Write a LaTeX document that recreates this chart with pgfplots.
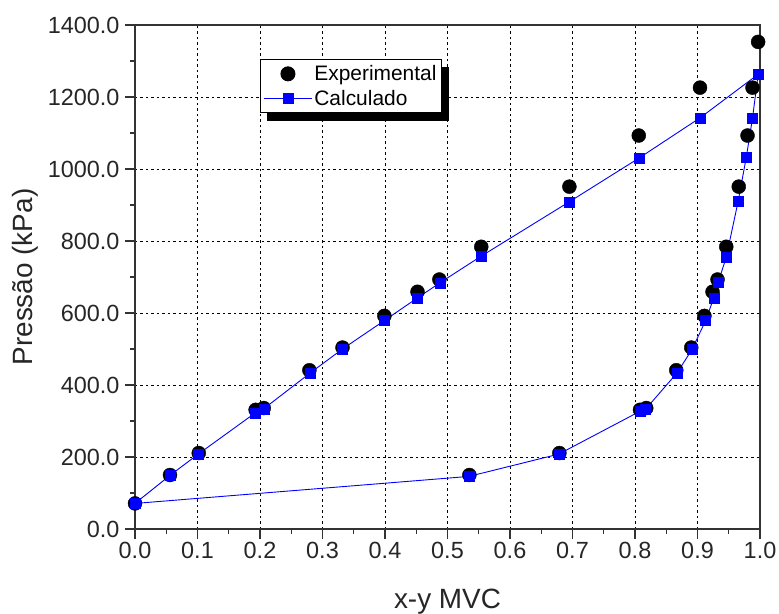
\documentclass[border=0pt]{standalone}
\usepackage{pgfplots}
\pgfplotsset{compat=1.18}
\usepackage{fontspec}
\setmainfont{Liberation Sans}

\pgfdeclarelayer{background}
\pgfsetlayers{background,main}

% Experimental P-x-y data (bubble branch, then dew branch)
\pgfplotstableread{
x      p
0.000  71
0.056  150
0.102  211
0.193  331
0.206  336
0.279  441
0.332  504
0.399  592
0.452  659
0.487  693
0.554  784
0.695  951
0.806  1093
0.904  1226
0.997  1353
0.988  1226
0.980  1093
0.966  951
0.946  784
0.932  693
0.924  659
0.911  592
0.890  504
0.866  441
0.818  336
0.808  331
0.679  211
0.535  150
}\expdata

% Calculated envelope: bubble curve up, dew curve back down
\pgfplotstableread{
x      p
0.000  71
0.056  149
0.102  209
0.192  322
0.206  334
0.280  433
0.332  500
0.399  579
0.452  642
0.488  684
0.554  758
0.695  909
0.807  1031
0.904  1142
0.997  1263
0.988  1141
0.978  1032
0.965  910
0.946  755
0.933  685
0.926  642
0.913  579
0.891  498
0.867  433
0.817  333
0.808  327
0.678  208
0.534  146
0.000  71
}\calcdata

\pgfplotsset{
  marklegend/.style={legend image code/.code={\path[##1] plot coordinates {(24bp,0bp)};}},
  linelegend/.style={legend image code/.code={\draw[mark repeat=2, mark phase=2, ##1]
    plot coordinates {(0bp,0bp) (24bp,0bp) (48bp,0bp)};}},
}

\begin{document}
\begin{tikzpicture}
\begin{axis}[
  at={(0,0)}, anchor=south west,
  scale only axis, width=625bp, height=504bp,
  xmin=0, xmax=1, ymin=0, ymax=1400,
  xtick={0,0.1,0.2,0.3,0.4,0.5,0.6,0.7,0.8,0.9,1.0},
  ytick={0,200,400,600,800,1000,1200,1400},
  minor x tick num=1, minor y tick num=1,
  tick align=outside, xtick pos=bottom, ytick pos=left,
  major tick length=10bp, minor tick length=5bp,
  tick style={black!80, line width=1.1bp},
  axis line style={black!80, line width=1.2bp},
  grid=major,
  major grid style={black, line width=0.9bp, dash pattern=on 2.5bp off 3bp},
  /pgf/number format/assume math mode=true,
  xticklabel style={/pgf/number format/.cd, fixed, fixed zerofill, precision=1},
  yticklabel style={/pgf/number format/.cd, fixed, fixed zerofill, precision=1, 1000 sep={},
    /tikz/xshift=-2bp},
  tick label style={font=\fontsize{23.5}{25}\selectfont, black!85},
  label style={font=\fontsize{28}{30}\selectfont, black!85},
  xlabel={x-y MVC},
  ylabel={Pressão (kPa)},
  xlabel style={at={(axis description cs:0.5,-0.157)}, anchor=base},
  ylabel style={at={(axis description cs:-0.176,0.5)}, anchor=center},
  legend style={name=leg, at={(0.2,0.9325)}, anchor=north west, draw=black, fill=white,
    line width=1bp, font=\fontsize{21}{23}\selectfont,
    inner xsep=3bp, inner ysep=4bp, row sep=4bp,
    /tikz/every even column/.append style={column sep=8bp}},
  legend cell align=left,
]
\addplot[only marks, mark=*, mark size=7bp, black, fill=black, marklegend]
  table[x=x, y=p] {\expdata};
\addlegendentry{Experimental}
\addplot[blue, line width=0.9bp, mark=square*, mark size=5bp,
  mark options={fill=blue, draw=blue, line width=0.5bp}, linelegend]
  table[x=x, y=p] {\calcdata};
\addlegendentry{Calculado}
\end{axis}
% solid shadow behind the legend box
\begin{pgfonlayer}{background}
  \fill[black] ([shift={(7.5bp,-8bp)}]leg.south west) rectangle ([shift={(7.5bp,-8bp)}]leg.north east);
\end{pgfonlayer}
\pgfresetboundingbox
\path[use as bounding box] (-135bp,-85bp) rectangle (644bp,529bp);
\end{tikzpicture}
\end{document}
